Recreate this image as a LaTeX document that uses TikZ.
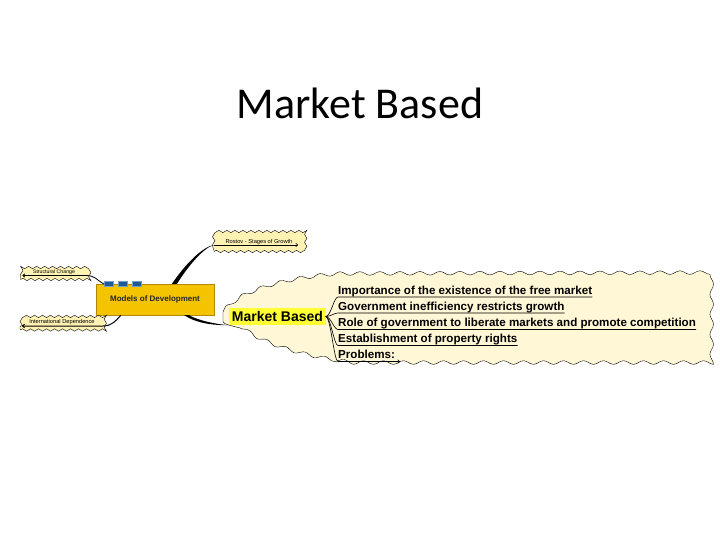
\documentclass[tikz,border=0pt]{standalone}
\usepackage{fontspec}
\usepackage{tikz}
\usetikzlibrary{arrows.meta,positioning,calc,decorations.pathmorphing}
\newfontfamily\titlefont{Carlito}
\newfontfamily\mapfont{Liberation Sans}
\definecolor{mdlgold}{HTML}{F5C400}
\definecolor{mdledge}{HTML}{B08A00}
\definecolor{sqblue}{HTML}{1F5A96}
\definecolor{calloutfill}{HTML}{FFF2B3}
\definecolor{cloudfill}{HTML}{FFF7D6}
\definecolor{labelyellow}{HTML}{FFFF33}

\begin{document}
\begin{tikzpicture}[
  x=1pt, y=-1pt,
  callout/.style={draw, fill=calloutfill, decorate,
                  decoration={snake, segment length=8pt, amplitude=1.2pt},
                  inner sep=0pt, font=\mapfont\fontsize{5.7}{7}\selectfont},
  mdlbox/.style={draw=mdledge, fill=mdlgold, minimum width=118pt,
                 minimum height=31pt, inner sep=0pt, text=black!85,
                 font=\mapfont\bfseries\fontsize{8}{9}\selectfont},
  sqbox/.style={fill=sqblue, draw=sqblue!60!white, minimum width=9pt,
                minimum height=5pt, inner sep=0pt},
  mblabel/.style={fill=labelyellow, minimum height=17pt, inner xsep=2.5pt,
                  inner ysep=0pt, font=\mapfont\bfseries\fontsize{14}{16}\selectfont},
  item/.style={anchor=base west, inner sep=0pt, text depth=2.8pt,
               font=\mapfont\bfseries\fontsize{11.6}{13}\selectfont},
  conn/.style={line width=0.6pt},
  tip/.style={-{Straight Barb[length=2pt,width=3.5pt]}}
]
\useasboundingbox (0,0) rectangle (720,540);

\node[font=\titlefont\fontsize{44}{50}\selectfont] (title) at (360,103) {Market Based};

% wavy cloud behind the market based branch
\draw[fill=cloudfill, decorate, decoration={snake, segment length=20pt, amplitude=1.8pt}]
  (223,312) .. controls (240,292) and (290,280) .. (340,277) -- (703,276)
  -- (703,366) -- (340,366) .. controls (290,360) and (245,347) .. (223,327) -- cycle;

\node[mdlbox] (mdl) at (155,299.5) {Models of Development};
\foreach \i/\x in {1/108.8, 2/122.8, 3/136.4}
  \node[sqbox] (sq\i) at (\x,284) {};

\node[callout, minimum width=90pt, minimum height=19pt] (ros) at (259,242) {Rostov - Stages of Growth};
\node[callout, minimum width=67pt, minimum height=15pt,
      font=\mapfont\fontsize{5.2}{6}\selectfont] (struc) at (54,272) {Structural Change};
\node[callout, minimum width=84pt, minimum height=16pt] (intl) at (62,322) {International Dependence};

\node[mblabel] (mb) at (277.5,316.5) {Market Based};
\node[item] (it1) at (338,294) {Importance of the existence of the free market};
\node[item] (it2) at (338,310) {Government inefficiency restricts growth};
\node[item] (it3) at (338,326.5) {Role of government to liberate markets and promote competition};
\node[item] (it4) at (338,342.5) {Establishment of property rights};
\node[item] (it5) at (338,358.5) {Problems:};

% end points on the callouts
\coordinate (ros-in) at ($(ros.west)+(0,3)$);
\coordinate (ros-tip) at ($(ros.east)+(-6,3)$);
\coordinate (sc-in) at ($(struc.east)+(-2,3.5)$);
\coordinate (sc-tip) at ($(struc.west)+(2,3.5)$);
\coordinate (id-in) at ($(intl.east)+(-1,4)$);
\coordinate (id-tip) at ($(intl.west)+(2,4)$);
\coordinate (r1) at ($(mdl.north)+(17,0)$);
\coordinate (r2) at ($(mdl.north)+(22,0)$);
\coordinate (m1) at ($(mdl.south east)+(-30,0)$);
\coordinate (m2) at ($(mdl.south east)+(-25,0)$);
\coordinate (i1) at ($(mdl.south west)+(25,0)$);

% branches
\fill (r1) .. controls +(12,-18) and +(-12,2) .. (ros-in)
  .. controls +(-11,3) and +(10,-16) .. (r2) -- cycle;
\draw[conn, tip] (ros-in) -- (ros-tip);
\draw[line width=0.8pt, tip] (sq1.west) .. controls +(-8,-4) and +(10,0) .. (sc-in) -- (sc-tip);
\draw[line width=1pt, tip] (i1) .. controls +(-5,6) and +(8,0) .. (id-in) -- (id-tip);
\fill (m1) .. controls +(14,9) and +(-15,0) .. (mb.south west)
  .. controls +(-13,-0.8) and +(8,5) .. (m2) -- cycle;

% items
\foreach \k in {1,2,3,4}
  \draw[conn] (mb.east) .. controls +(5,0) and +(-4,0) .. (it\k.south west) -- (it\k.south east);
\draw[conn, tip] (mb.east) .. controls +(5,0) and +(-4,0) .. (it5.south west)
  -- ($(it5.south east)+(5,0)$);
\end{tikzpicture}
\end{document}
